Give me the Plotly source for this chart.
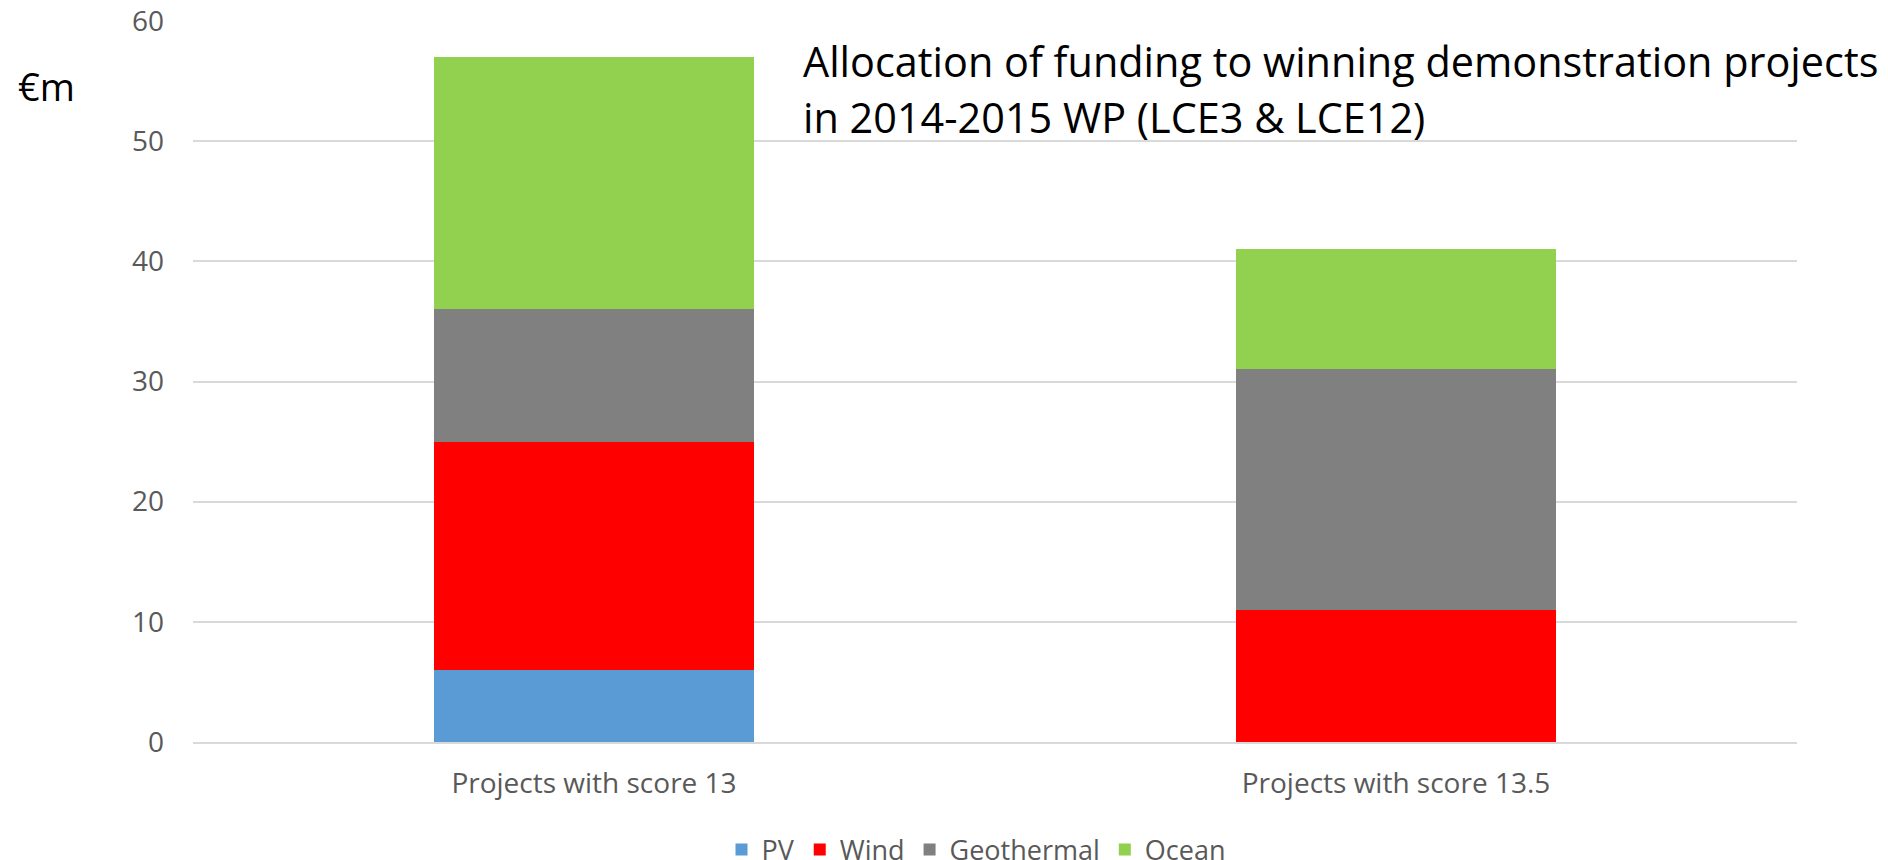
import plotly.graph_objects as go

categories = ["Projects with score 13", "Projects with score 13.5"]
pv = [6, 0]
wind = [19, 11]
geothermal = [11, 20]
ocean = [21, 10]
y_ticks = [0, 10, 20, 30, 40, 50, 60]

series = [
    ("PV", pv, "#5B9BD5"),
    ("Wind", wind, "#FF0000"),
    ("Geothermal", geothermal, "#808080"),
    ("Ocean", ocean, "#92D050"),
]

fig = go.Figure()
for name, vals, color in series:
    fig.add_trace(go.Bar(name=name, x=categories, y=vals, marker_color=color,
                         marker_line_width=0))

# page body has an 8px margin, so figure coords = page coords - 8
OFF = 8
W, H = 1888 - OFF, 860 - OFF
ml, mr, mt, mb = 193 - OFF, 91, 21 - OFF, 118
PW, PH = W - ml - mr, H - mt - mb


def px_x(page_x):
    return (page_x - OFF - ml) / PW


def px_y(page_y):
    return 1 - (page_y - OFF - mt) / PH


fig.update_layout(
    width=W, height=H,
    barmode="stack", bargap=0.6,
    margin=dict(l=ml, r=mr, t=mt, b=mb, autoexpand=False),
    plot_bgcolor="white", paper_bgcolor="white",
    font=dict(family="Open Sans", size=28, color="#595959"),
    xaxis=dict(showgrid=False, showline=True, linecolor="#d9d9d9", linewidth=2,
               ticks="", ticklabelstandoff=15, automargin=False),
    yaxis=dict(range=[0, 60], tickvals=y_ticks, showgrid=True, gridcolor="#d9d9d9",
               gridwidth=2, zeroline=False, showline=False, ticks="",
               ticklabelstandoff=28, automargin=False, ticklabeloverflow="allow"),
    legend=dict(orientation="h", x=px_x(976), xanchor="center", yref="container",
                y=(860 - 850) / H, yanchor="middle", font=dict(size=27, color="#595959"),
                traceorder="normal", itemwidth=30),
)

fig.add_annotation(text="€m", xref="paper", yref="paper", x=px_x(16),
                   xanchor="left", y=px_y(86), yanchor="middle",
                   showarrow=False, font=dict(family="Open Sans", size=38, color="black"))
fig.add_annotation(text="Allocation of funding to winning demonstration projects",
                   xref="paper", yref="paper", x=px_x(801), xanchor="left",
                   y=px_y(61), yanchor="middle", showarrow=False,
                   font=dict(family="Open Sans", size=41.4, color="black"))
fig.add_annotation(text="in 2014-2015 WP (LCE3 & LCE12)",
                   xref="paper", yref="paper", x=px_x(801), xanchor="left",
                   y=px_y(117), yanchor="middle", showarrow=False,
                   font=dict(family="Open Sans", size=41.4, color="black"))

fig.write_html("out.html")
